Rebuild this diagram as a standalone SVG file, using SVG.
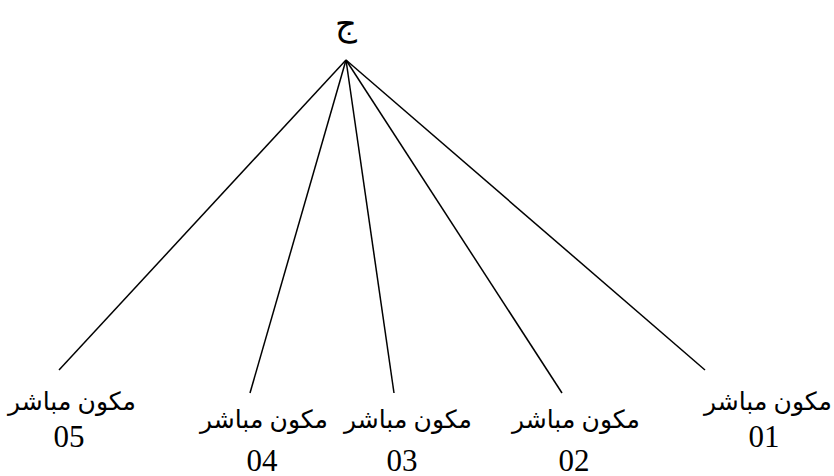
<svg xmlns="http://www.w3.org/2000/svg" width="834" height="476" viewBox="0 0 834 476">
<style>
.ar{font-family:"Liberation Serif","DejaVu Sans","Noto Sans",serif;font-size:25px;fill:#000;text-anchor:middle}
.num{font-family:"Liberation Serif",serif;font-size:31px;fill:#000;text-anchor:middle}
.ln{stroke:#000;stroke-width:1.5;fill:none}
</style>
<rect width="834" height="476" fill="#fff"/>
<g id="root"><text class="ar" x="346" y="35" style="font-size:34px">ج</text></g>
<g id="connectors">
<line class="ln" x1="346" y1="60" x2="59" y2="370"/>
<line class="ln" x1="346" y1="60" x2="250" y2="393"/>
<line class="ln" x1="346" y1="60" x2="394" y2="393"/>
<line class="ln" x1="346" y1="60" x2="562" y2="393"/>
<line class="ln" x1="346" y1="60" x2="705" y2="370"/>
</g>
<g id="n05"><text class="ar" x="72" y="410">مكون مباشر</text><text class="num" x="69" y="447">05</text></g>
<g id="n04"><text class="ar" x="264" y="428">مكون مباشر</text><text class="num" x="262" y="471">04</text></g>
<g id="n03"><text class="ar" x="408" y="428">مكون مباشر</text><text class="num" x="402" y="471">03</text></g>
<g id="n02"><text class="ar" x="576" y="428">مكون مباشر</text><text class="num" x="574" y="471">02</text></g>
<g id="n01"><text class="ar" x="768" y="410">مكون مباشر</text><text class="num" x="764" y="447">01</text></g>
</svg>
